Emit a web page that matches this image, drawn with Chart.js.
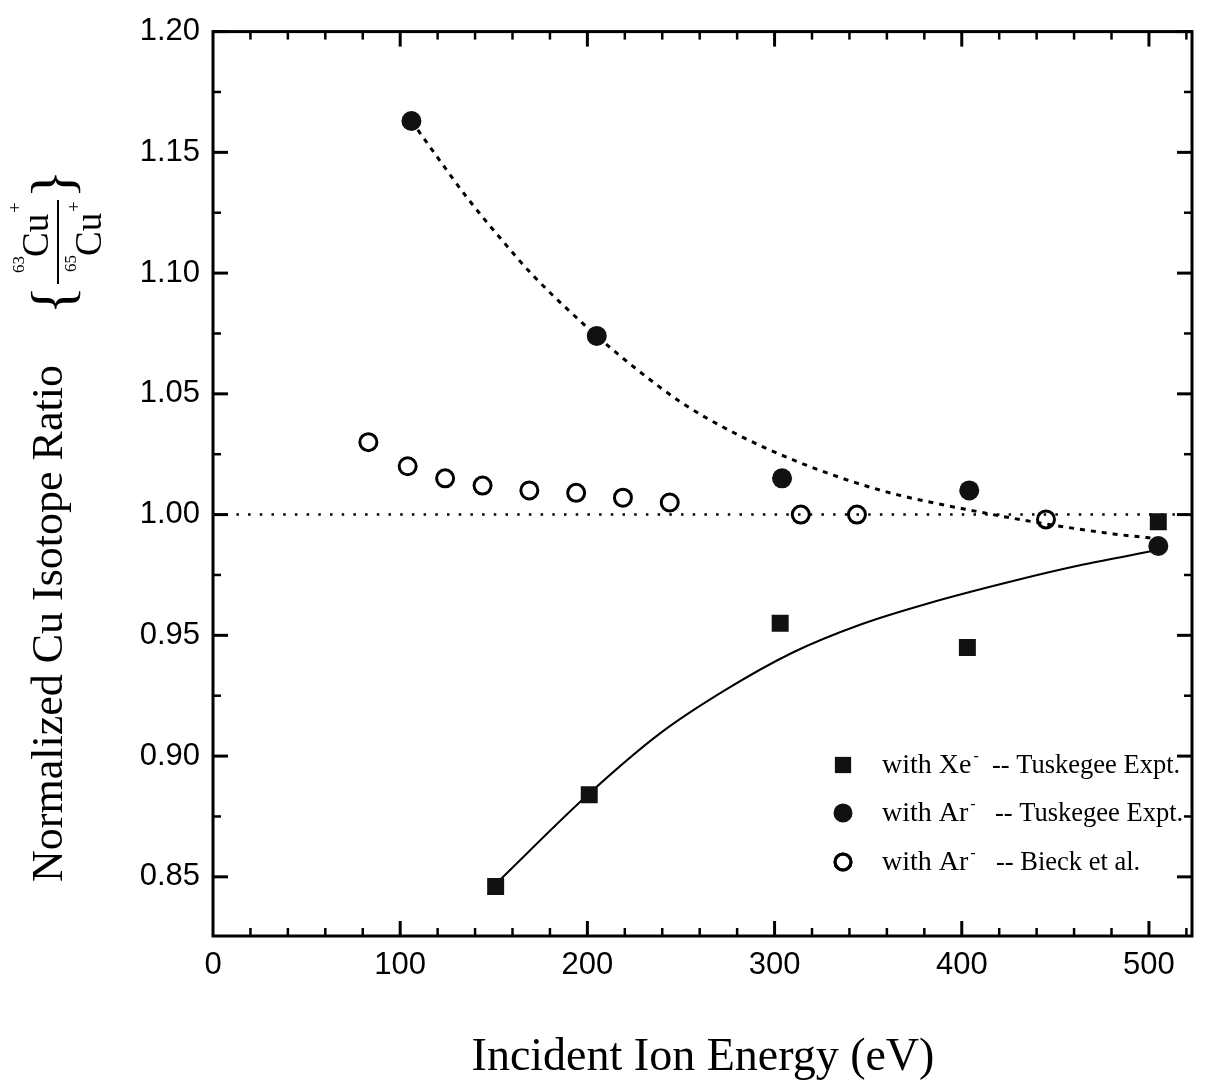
<!DOCTYPE html>
<html>
<head>
<meta charset="utf-8">
<script src="https://cdn.jsdelivr.net/npm/chart.js@4.4.1/dist/chart.umd.min.js"></script>
<style>
  html, body { margin: 0; padding: 0; background: #fff; }
  #plot { display: block; }
</style>
</head>
<body>
<canvas id="plot" width="1208" height="1081"></canvas>
<script>
// Xe- beam, Tuskegee experiment
var xeEnergy = [151, 201, 303, 403, 505];
var xeRatio = [0.846, 0.884, 0.955, 0.945, 0.997];
// Ar- beam, Tuskegee experiment
var arEnergy = [106, 205, 304, 404, 505];
var arRatio = [1.163, 1.074, 1.015, 1.010, 0.987];
// Ar- beam, Bieck et al.
var bieckEnergy = [83, 104, 124, 144, 169, 194, 219, 244, 314, 344, 445];
var bieckRatio = [1.030, 1.020, 1.015, 1.012, 1.010, 1.009, 1.007, 1.005, 1.000, 1.000, 0.998];
// fitted curves as drawn
var arFitEnergy = [106, 118, 136, 154, 171, 205, 225, 251, 278, 312, 357, 410, 446, 481, 505];
var arFitRatio = [1.163, 1.150, 1.131, 1.114, 1.099, 1.074, 1.061, 1.046, 1.034, 1.022, 1.010, 1.001, 0.996, 0.992, 0.990];
var xeFitEnergy = [151, 201, 239, 274, 310, 346, 381, 429, 465, 502];
var xeFitRatio = [0.847, 0.8845, 0.9095, 0.9275, 0.943, 0.9545, 0.963, 0.9728, 0.9793, 0.9849];
// reference level
var refEnergy = [0, 523];
var refRatio = [1.00, 1.00];

var xTickValues = [0, 100, 200, 300, 400, 500];
var xTickLabels = ['0', '100', '200', '300', '400', '500'];
var yTickValues = [0.85, 0.90, 0.95, 1.00, 1.05, 1.10, 1.15, 1.20];
var yTickLabels = ['0.85', '0.90', '0.95', '1.00', '1.05', '1.10', '1.15', '1.20'];

var legendLabels = ['with Xe', 'with Ar', 'with Ar'];
var legendSources = ['-- Tuskegee Expt.', '-- Tuskegee Expt.', '-- Bieck et al.'];

var SANS = '"Liberation Sans", Arial, sans-serif';
var SERIF = '"Liberation Serif", "Times New Roman", serif';

function pts(xs, ys) {
  return xs.map(function (x, i) { return { x: x, y: ys[i] }; });
}

function vText(ctx, text, x, y, font, align, baseline) {
  ctx.save();
  ctx.translate(x, y);
  ctx.rotate(-Math.PI / 2);
  ctx.font = font;
  ctx.textAlign = align || 'left';
  ctx.textBaseline = baseline || 'alphabetic';
  ctx.fillText(text, 0, 0);
  ctx.restore();
}

function seg(ctx, x1, y1, x2, y2) {
  ctx.beginPath();
  ctx.moveTo(x1, y1);
  ctx.lineTo(x2, y2);
  ctx.stroke();
}

// box, inward ticks on all four sides, axis titles, legend
var decorations = {
  id: 'decorations',
  afterDraw: function (chart) {
    var ctx = chart.ctx;
    var a = chart.chartArea;
    var xs = chart.scales.x;
    var ys = chart.scales.y;
    ctx.save();
    ctx.strokeStyle = '#000';
    ctx.fillStyle = '#000';
    ctx.lineCap = 'butt';

    ctx.lineWidth = 3;
    ctx.strokeRect(a.left, a.top, a.right - a.left, a.bottom - a.top);

    for (var k = 1; k * 20 <= xs.max; k++) {
      var major = k % 5 === 0;
      var len = major ? 15 : 8;
      var px = xs.getPixelForValue(k * 20);
      ctx.lineWidth = major ? 3 : 2.5;
      seg(ctx, px, a.bottom, px, a.bottom - len);
      seg(ctx, px, a.top, px, a.top + len);
    }
    for (var j = 1; ; j++) {
      var v = Math.round(ys.min * 40) / 40 + j * 0.025;
      if (v > ys.max + 1e-9) break;
      var isMajor = Math.round(v * 1000) % 50 === 0;
      var tl = isMajor ? 15 : 8;
      var py = ys.getPixelForValue(v);
      ctx.lineWidth = isMajor ? 3 : 2.5;
      seg(ctx, a.left, py, a.left + tl, py);
      seg(ctx, a.right, py, a.right - tl, py);
    }

    // x title
    ctx.font = '46px ' + SERIF;
    ctx.textAlign = 'center';
    ctx.textBaseline = 'alphabetic';
    ctx.fillText('Incident Ion Energy (eV)', 703, 1070);

    // y title with the isotope fraction
    vText(ctx, 'Normalized Cu Isotope Ratio', 62, 882, '44px ' + SERIF);
    vText(ctx, '{', 56, 300, '60px ' + SERIF, 'center', 'middle');
    vText(ctx, '}', 56, 184, '60px ' + SERIF, 'center', 'middle');
    vText(ctx, '63', 24, 273, '17px ' + SERIF);
    vText(ctx, 'Cu', 48, 257, '37px ' + SERIF);
    vText(ctx, '+', 21, 213, '19px ' + SERIF);
    vText(ctx, '65', 76, 272, '17px ' + SERIF);
    vText(ctx, 'Cu', 101, 256, '37px ' + SERIF);
    vText(ctx, '+', 80, 212, '19px ' + SERIF);
    ctx.lineWidth = 2;
    seg(ctx, 58, 200, 58, 284);

    // legend
    var styles = [
      { pointStyle: 'rect', radius: 11.5, fill: true },
      { pointStyle: 'circle', radius: 9.5, fill: true },
      { pointStyle: 'circle', radius: 8, fill: false }
    ];
    var rowY = [765, 813, 862];
    var restX = [992, 995, 996];
    for (var r = 0; r < 3; r++) {
      var st = styles[r];
      ctx.fillStyle = st.fill ? '#111' : 'rgba(0,0,0,0)';
      ctx.strokeStyle = '#000';
      ctx.lineWidth = st.fill ? 0.01 : 3;
      Chart.helpers.drawPoint(ctx, { pointStyle: st.pointStyle, radius: st.radius, rotation: 0, borderWidth: st.fill ? 0 : 3 }, 843, rowY[r]);
      if (!st.fill) ctx.stroke();
      ctx.fillStyle = '#000';
      ctx.textAlign = 'left';
      ctx.textBaseline = 'alphabetic';
      ctx.font = '28px ' + SERIF;
      ctx.fillText(legendLabels[r], 882, rowY[r] + 8);
      var w = ctx.measureText(legendLabels[r]).width;
      ctx.font = '16px ' + SERIF;
      ctx.fillText('-', 884 + w, rowY[r] - 4);
      ctx.font = '26.5px ' + SERIF;
      ctx.fillText(legendSources[r], restX[r], rowY[r] + 8);
    }
    ctx.restore();
  }
};

var tickFont = { family: SANS, size: 31 };

new Chart(document.getElementById('plot'), {
  type: 'scatter',
  data: {
    datasets: [
      {
        data: pts(xeEnergy, xeRatio),
        pointStyle: 'rect', pointRadius: 12,
        backgroundColor: '#111', borderColor: '#111', borderWidth: 0
      },
      {
        data: pts(arEnergy, arRatio),
        pointStyle: 'circle', pointRadius: 10,
        backgroundColor: '#111', borderColor: '#111', borderWidth: 0
      },
      {
        data: pts(bieckEnergy, bieckRatio),
        pointStyle: 'circle', pointRadius: 8.5,
        backgroundColor: 'rgba(0,0,0,0)', borderColor: '#000', borderWidth: 3
      },
      {
        data: pts(arFitEnergy, arFitRatio),
        showLine: true, pointRadius: 0, borderColor: '#000', borderWidth: 3,
        borderDash: [5, 6], cubicInterpolationMode: 'monotone'
      },
      {
        data: pts(xeFitEnergy, xeFitRatio),
        showLine: true, pointRadius: 0, borderColor: '#000', borderWidth: 2,
        cubicInterpolationMode: 'monotone'
      },
      {
        data: pts(refEnergy, refRatio),
        showLine: true, pointRadius: 0, borderColor: '#000', borderWidth: 2.5,
        borderDash: [2.5, 9.2]
      }
    ]
  },
  options: {
    responsive: false,
    animation: false,
    devicePixelRatio: 1,
    events: [],
    layout: { padding: { top: 30, right: 16, left: 0, bottom: 0 } },
    plugins: {
      legend: { display: false },
      tooltip: { enabled: false }
    },
    scales: {
      x: {
        type: 'linear', min: 0, max: 523,
        afterBuildTicks: function (s) { s.ticks = xTickValues.map(function (v) { return { value: v }; }); },
        afterFit: function (s) { s.height = 145; },
        ticks: {
          callback: function (v, i) { return xTickLabels[i]; },
          font: tickFont, color: '#000', padding: 11, maxRotation: 0, autoSkip: false
        },
        grid: { display: false, drawTicks: false },
        border: { display: false }
      },
      y: {
        type: 'linear', min: 0.8255, max: 1.20,
        afterBuildTicks: function (s) { s.ticks = yTickValues.map(function (v) { return { value: v }; }); },
        afterFit: function (s) { s.width = 213; },
        ticks: {
          callback: function (v, i) { return yTickLabels[i]; },
          font: tickFont, color: '#000', padding: 13, autoSkip: false
        },
        grid: { display: false, drawTicks: false },
        border: { display: false }
      }
    }
  },
  plugins: [decorations]
});
</script>
</body>
</html>
